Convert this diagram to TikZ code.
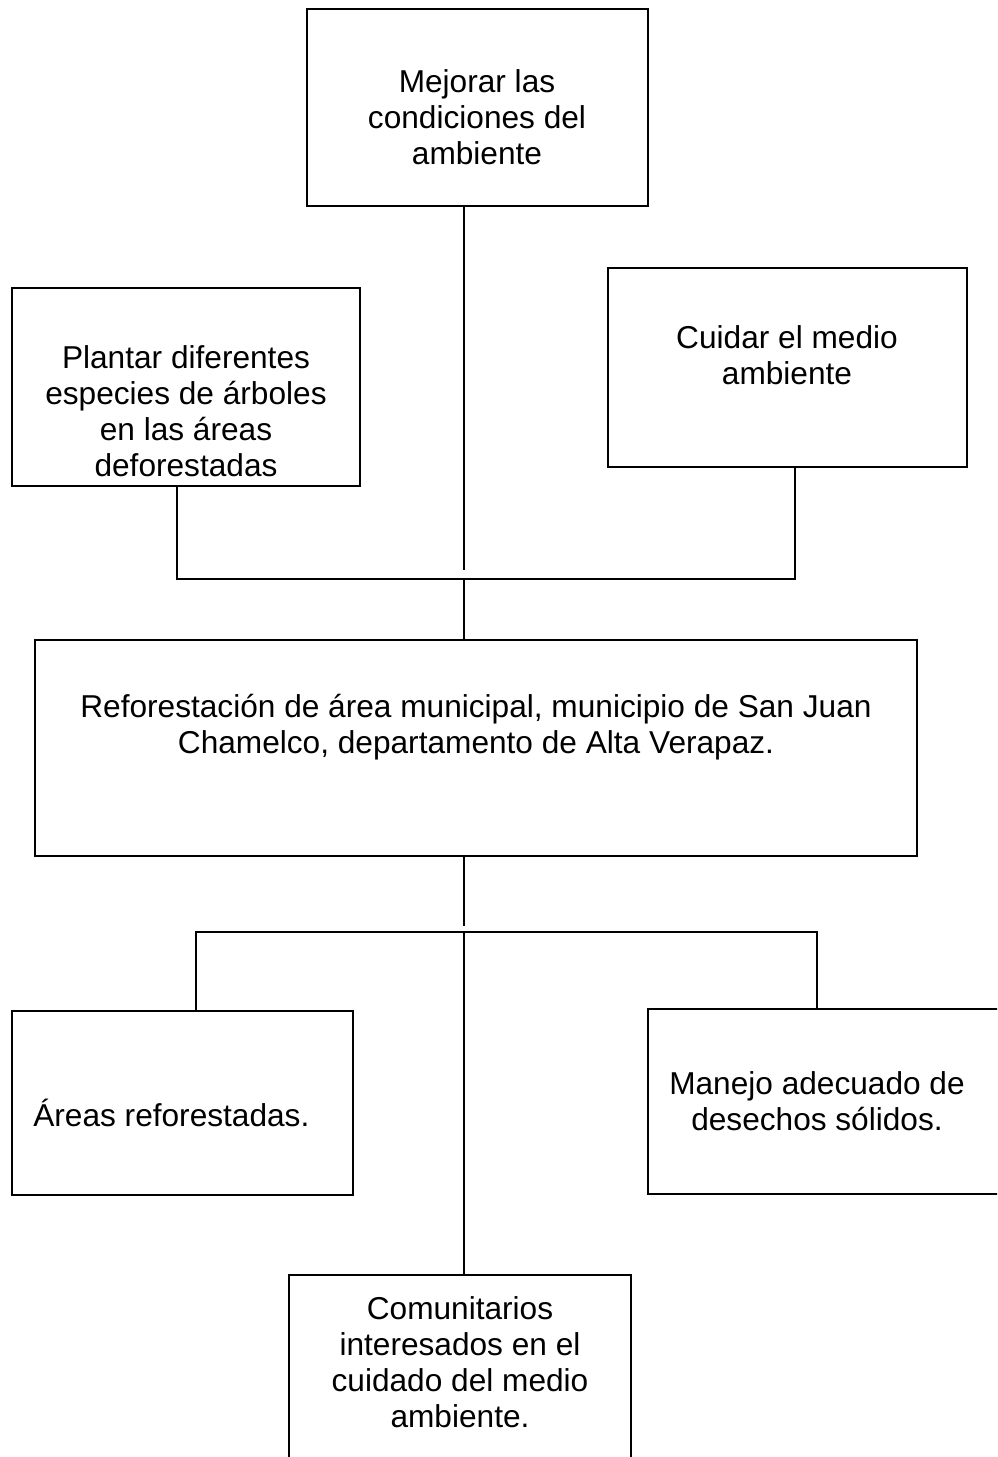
\documentclass[tikz,border=0pt]{standalone}
\usepackage{fontspec}
\setmainfont{Liberation Sans}
\usepackage{tikz}

\tikzset{
  caja/.style={draw,line width=1.1pt,inner sep=0pt},
  texto/.style={align=center,inner sep=0pt,font=\fontsize{18}{20.5}\selectfont},
  linea/.style={line width=1.1pt}
}

\begin{document}
\begin{tikzpicture}[x=0.2mm,y=-0.2mm]
\clip (0,0) rectangle (997,1457);
% cajas
\node[caja,minimum width=68.2mm,minimum height=39.4mm] (mejora) at (477.5,107.5) {};
\node[caja,minimum width=69.6mm,minimum height=39.6mm] (plantar) at (186,387) {};
\node[caja,minimum width=71.8mm,minimum height=39.8mm] (cuidar) at (787.5,367.5) {};
\node[caja,minimum width=176.4mm,minimum height=43.2mm] (refor) at (476,748) {};
\node[caja,minimum width=68.2mm,minimum height=36.8mm] (areas) at (182.5,1103) {};
\node[caja,minimum width=74.4mm,minimum height=37mm] (manejo) at (834,1101.5) {};
\node[caja,minimum width=68.4mm,minimum height=45mm] (comun) at (460,1387.5) {};
% textos
\node[texto] (mejora-t) at (477,117) {Mejorar las\\condiciones del\\ambiente};
\node[texto] (plantar-t) at (186,411) {Plantar diferentes\\especies de árboles\\en las áreas\\deforestadas};
\node[texto] (cuidar-t) at (787,355) {Cuidar el medio\\ambiente};
\node[texto] (refor-t) at (476,727) {Reforestación de área municipal, municipio de San Juan\\Chamelco, departamento de Alta Verapaz.};
\node[texto,anchor=west] (areas-t) at (33,1113) {Áreas reforestadas.};
\node[texto] (manejo-t) at (817,1101) {Manejo adecuado de\\desechos sólidos.};
\node[texto] (comun-t) at (460,1362) {Comunitarios\\interesados en el\\cuidado del medio\\ambiente.};
% conectores
\coordinate (corte1) at (464,570);
\coordinate (barra1) at (464,579);
\coordinate (barra1L) at (177,579);
\coordinate (barra1R) at (795,579);
\coordinate (corte2) at (464,926);
\coordinate (barra2) at (464,932);
\coordinate (barra2L) at (196,932);
\coordinate (barra2R) at (817,932);
\draw[linea] (mejora.south -| corte1) -- (corte1);
\draw[linea] (plantar.south -| barra1L) -- (barra1L) -- (barra1R) -- (cuidar.south -| barra1R);
\draw[linea] (barra1) -- (refor.north -| barra1);
\draw[linea] (refor.south -| corte2) -- (corte2);
\draw[linea] (areas.north -| barra2L) -- (barra2L) -- (barra2R) -- (manejo.north -| barra2R);
\draw[linea] (barra2) -- (comun.north -| barra2);
\end{tikzpicture}
\end{document}
